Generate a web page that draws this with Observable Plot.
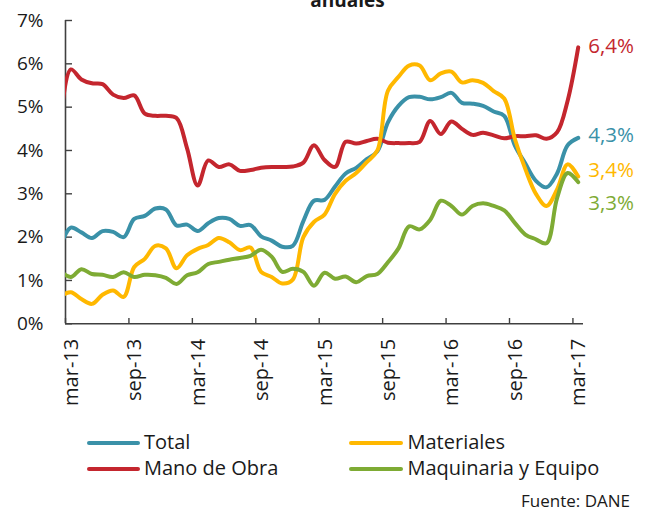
<!DOCTYPE html>
<html>
<head>
<meta charset="utf-8">
<script src="https://cdn.jsdelivr.net/npm/d3@7"></script>
<script src="https://cdn.jsdelivr.net/npm/@observablehq/plot@0.6"></script>
<style>
  html, body { margin: 0; padding: 0; background: #fff; }
  body { width: 647px; height: 510px; overflow: hidden; position: relative; font-family: "Open Sans", sans-serif; color: #1a1a1a; }
  #title { position: absolute; top: -13px; left: 24px; width: 647px; text-align: center; font-weight: 700; font-size: 19px; line-height: 26px; }
  #chart { position: absolute; top: 0; left: 0; }
  .sw { position: absolute; height: 4px; border-radius: 2px; }
  .lg { position: absolute; font-size: 20px; line-height: 27px; white-space: nowrap; }
  #source { position: absolute; right: 17px; top: 493px; font-size: 17px; line-height: 16px; }
</style>
</head>
<body>
<div id="title">anuales</div>
<div id="chart"></div>
<div id="legend"></div>
<div id="source">Fuente: DANE</div>
<script>
// x tick labels (every 6 months, starting mar-13)
const xLabels = ["mar-13", "sep-13", "mar-14", "sep-14", "mar-15", "sep-15", "mar-16", "sep-16", "mar-17"];
const yTicks = [0, 1, 2, 3, 4, 5, 6, 7];
const seriesNames = ["Total", "Materiales", "Mano de Obra", "Maquinaria y Equipo"];

// monthly annual variation (%), feb-13 .. mar-17 (feb-13 only partly visible)
const total = [1.78, 2.22, 2.11, 1.98, 2.14, 2.12, 2.0, 2.42, 2.49, 2.66, 2.64, 2.27, 2.29, 2.14, 2.32, 2.44, 2.42, 2.26, 2.28, 2.02, 1.92, 1.78, 1.8, 2.37, 2.84, 2.86, 3.17, 3.47, 3.6, 3.8, 3.98, 4.65, 5.03, 5.23, 5.24, 5.18, 5.23, 5.33, 5.1, 5.08, 5.03, 4.9, 4.8, 4.12, 3.7, 3.3, 3.15, 3.47, 4.12, 4.29];
const materiales = [0.63, 0.73, 0.57, 0.46, 0.67, 0.77, 0.62, 1.31, 1.5, 1.8, 1.74, 1.28, 1.58, 1.73, 1.82, 1.98, 1.88, 1.7, 1.76, 1.2, 1.08, 0.93, 1.02, 2.0, 2.35, 2.52, 3.0, 3.3, 3.48, 3.73, 4.0, 5.38, 5.7, 5.96, 5.96, 5.62, 5.78, 5.82, 5.57, 5.62, 5.56, 5.37, 5.2, 4.27, 3.57, 3.0, 2.72, 3.1, 3.68, 3.4];
const manoDeObra = [4.6, 5.87, 5.64, 5.55, 5.53, 5.29, 5.21, 5.27, 4.85, 4.8, 4.8, 4.75, 4.05, 3.19, 3.77, 3.62, 3.68, 3.53, 3.55, 3.6, 3.62, 3.62, 3.63, 3.72, 4.12, 3.78, 3.62, 4.2, 4.16, 4.22, 4.27, 4.18, 4.17, 4.17, 4.2, 4.68, 4.38, 4.67, 4.5, 4.36, 4.41, 4.35, 4.28, 4.33, 4.33, 4.35, 4.27, 4.42, 5.15, 6.38];
const maquinaria = [1.22, 1.08, 1.26, 1.15, 1.13, 1.08, 1.19, 1.08, 1.13, 1.12, 1.06, 0.92, 1.12, 1.19, 1.38, 1.43, 1.48, 1.52, 1.57, 1.71, 1.55, 1.2, 1.27, 1.2, 0.88, 1.18, 1.04, 1.09, 0.96, 1.1, 1.15, 1.42, 1.74, 2.25, 2.18, 2.4, 2.84, 2.72, 2.52, 2.72, 2.78, 2.72, 2.62, 2.33, 2.06, 1.95, 1.86, 2.9, 3.48, 3.27];

const colors = ["#3a91a8", "#ffb800", "#c4262e", "#7eab34"];

// styling (not data)
const labelDy = [-2, -6.5, -1.4, 21];
const drawOrder = [0, 2, 1, 3];

const arrays = [total, materiales, manoDeObra, maquinaria];
// month index: 0 = mar-13 (tick), points sit at the middle of each month
const rowsFor = s => arrays[s].map((v, k) => ({ serie: seriesNames[s], m: k - 1 + 0.5, v }));
const lastFor = s => { const a = arrays[s]; return [{ serie: seriesNames[s], m: a.length - 2 + 0.5, v: a[a.length - 1] }]; };
const fmt = v => d3.format(".1f")(v).replace(".", ",") + "%";
const xTickPos = xLabels.map((_, i) => i * 6);

const chart = Plot.plot({
  width: 647,
  height: 410,
  marginTop: 20,
  marginLeft: 65,
  marginRight: 64,
  marginBottom: 86.7,
  x: { domain: [0, 49] },
  y: { domain: [0, 7] },
  color: { domain: seriesNames, range: colors },
  style: { fontFamily: '"Open Sans", sans-serif', color: "#1a1a1a", background: "transparent", overflow: "visible" },
  marks: [
    Plot.axisY({ ticks: yTicks, tickFormat: d => d + "%", tickSize: 0, tickPadding: 22, fontSize: 19, label: null }),
    Plot.axisX({ ticks: xTickPos, tickFormat: d => xLabels[d / 6], tickRotate: -90, tickSize: 0, tickPadding: 15, fontSize: 20, dx: 6, label: null }),
    Plot.tickY(yTicks, { y: d => d, insetRight: 511, stroke: "#404040", strokeWidth: 1.4 }),
    Plot.tickX(xTickPos, { x: d => d, insetTop: 298, stroke: "#404040", strokeWidth: 1.4 }),
    Plot.ruleX([0], { stroke: "#404040", strokeWidth: 1.6 }),
    Plot.ruleY([0], { stroke: "#404040", strokeWidth: 1.6 }),
    ...drawOrder.map(s => Plot.line(rowsFor(s), { x: "m", y: "v", stroke: "serie", strokeWidth: 4, curve: "catmull-rom", clip: true })),
    ...drawOrder.map(s => Plot.text(lastFor(s), { x: "m", y: "v", text: d => fmt(d.v), fill: "serie", textAnchor: "start", dx: 10, dy: labelDy[s], fontSize: 20.5 }))
  ]
});
document.getElementById("chart").appendChild(chart);

// legend
const legendPos = [
  { sx: 87, sw: 53, tx: 144, y: 443.3 },
  { sx: 349, sw: 54, tx: 407.5, y: 443.3 },
  { sx: 87, sw: 53, tx: 144, y: 469.3 },
  { sx: 349, sw: 54, tx: 407.5, y: 469.3 }
];
const lg = document.getElementById("legend");
seriesNames.forEach((name, s) => {
  const p = legendPos[s];
  const sw = document.createElement("div");
  sw.className = "sw";
  sw.style.left = p.sx + "px"; sw.style.width = p.sw + "px"; sw.style.top = (p.y - 2) + "px"; sw.style.background = colors[s];
  lg.appendChild(sw);
  const t = document.createElement("div");
  t.className = "lg";
  t.textContent = name;
  t.style.left = p.tx + "px"; t.style.top = (p.y - 15.5) + "px";
  lg.appendChild(t);
});
</script>
</body>
</html>
